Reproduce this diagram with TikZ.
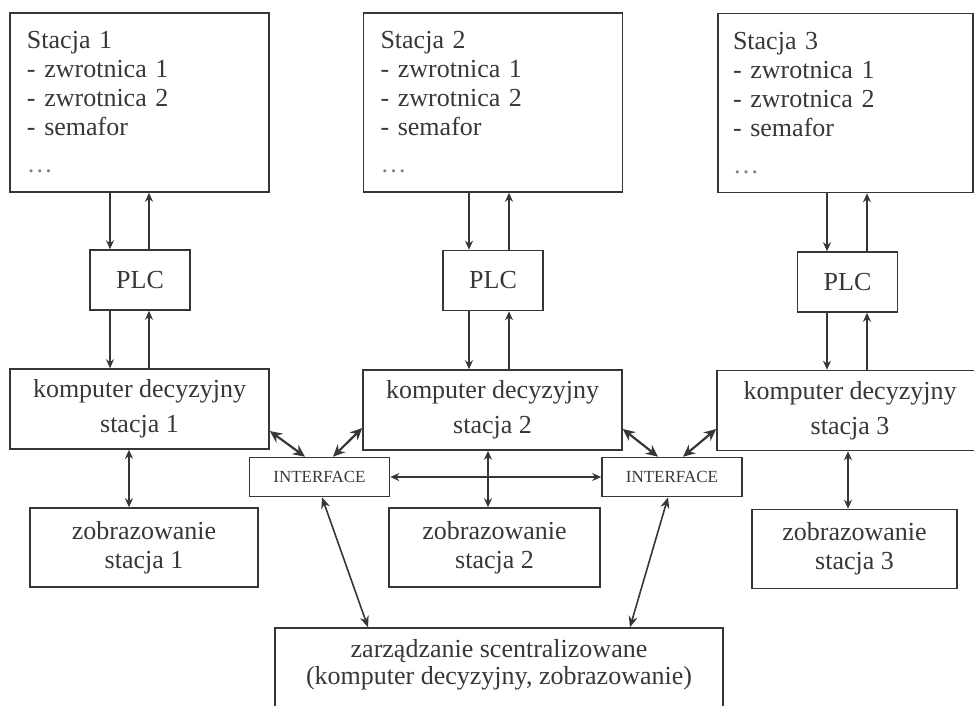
\documentclass[tikz,border=0pt]{standalone}
\usepackage{fontspec}
\setmainfont{Liberation Serif}
\usetikzlibrary{arrows.meta}
\definecolor{schemegray}{RGB}{55,55,55}

\begin{document}
\begin{tikzpicture}[x=1pt,y=-1pt,
    every node/.style={font=\fontsize{26}{29}\selectfont,text=schemegray},
    box/.style={draw=schemegray,line width=1.6pt,align=center,inner sep=0pt},
    stationbox/.style={box,align=left,text width=225pt,minimum width=259pt,
                       minimum height=179pt},
    plcbox/.style={box,minimum width=100pt,minimum height=60pt},
    kdbox/.style={box,minimum width=259pt,minimum height=80pt},
    zobbox/.style={box,minimum height=79pt},
    ifbox/.style={box,font=\fontsize{17}{19}\selectfont,minimum width=140pt,minimum height=39pt},
    sig/.style={draw=schemegray,line width=1.5pt,-{Stealth[length=9pt,width=8pt]}},
    dsig/.style={draw=schemegray,line width=1.5pt,
                 {Stealth[length=9pt,width=8pt]}-{Stealth[length=9pt,width=8pt]}},
    bus/.style={draw=schemegray,line width=2.2pt,
                {Stealth[length=12pt,width=11pt]}-{Stealth[length=12pt,width=11pt]}},
    feed/.style={draw=schemegray,line width=1.6pt,
                 {Stealth[length=11pt,width=9pt]}-{Stealth[length=11pt,width=9pt]}}]
    \useasboundingbox (0,0) rectangle (974,705);
    % stations
    \node[stationbox] (st1) at (139.5,102.5) {Stacja 1\\- zwrotnica 1\\- zwrotnica 2\\- semafor\\[8pt]\textcolor{gray}{\dots}};
    \node[stationbox] (st2) at (493,102.5) {Stacja 2\\- zwrotnica 1\\- zwrotnica 2\\- semafor\\[8pt]\textcolor{gray}{\dots}};
    \node[stationbox,minimum width=255pt] (st3) at (845.5,103) {Stacja 3\\- zwrotnica 1\\- zwrotnica 2\\- semafor\\[8pt]\textcolor{gray}{\dots}};
    % PLC
    \node[plcbox] (plc1) at (140,280) {PLC};
    \node[plcbox] (plc2) at (493,280.5) {PLC};
    \node[plcbox] (plc3) at (847.5,282) {PLC};
    % decision computers
    \node[kdbox] (kd1) at (139.5,409) {komputer decyzyjny\\[6pt]stacja 1};
    \node[kdbox] (kd2) at (492.5,410) {komputer decyzyjny\\[6pt]stacja 2};
    \node[kdbox,minimum width=266pt] (kd3) at (850,410.5) {komputer decyzyjny\\[6pt]stacja 3};
    % displays
    \node[zobbox,minimum width=228pt] (zob1) at (144,547.5) {zobrazowanie\\stacja 1};
    \node[zobbox,minimum width=211pt] (zob2) at (494.5,547.5) {zobrazowanie\\stacja 2};
    \node[zobbox,minimum width=205pt] (zob3) at (854.5,549) {zobrazowanie\\stacja 3};
    % interfaces
    \node[ifbox] (if1) at (319.5,477) {INTERFACE};
    \node[ifbox] (if2) at (672,477) {INTERFACE};
    % central
    \node[box,minimum width=448pt,minimum height=87pt,text depth=19pt,
          font=\fontsize{26}{27}\selectfont] (central) at (499,671.5)
          {zarządzanie scentralizowane\\(komputer decyzyjny, zobrazowanie)};

    \foreach \i/\a/\b/\c in {1/110/149/129,2/469/509/488,3/827/867/848}{
      \draw[sig] (st\i.south -| \a,0) -- (plc\i.north -| \a,0);
      \draw[sig] (plc\i.north -| \b,0) -- (st\i.south -| \b,0);
      \draw[sig] (plc\i.south -| \a,0) -- (kd\i.north -| \a,0);
      \draw[sig] (kd\i.north -| \b,0) -- (plc\i.south -| \b,0);
      \draw[dsig] (kd\i.south -| \c,0) -- (zob\i.north -| \c,0);
    }
    \draw[dsig] (if1.east) -- (if2.west);
    \draw[bus] (kd1.east |- 0,431) -- (if1.north -| 305,0);
    \draw[bus] (kd2.west |- 0,428) -- (if1.north -| 333,0);
    \draw[bus] (kd2.east |- 0,429) -- (if2.north -| 658,0);
    \draw[bus] (kd3.west |- 0,429) -- (if2.north -| 683,0);
    \draw[feed] (if1.south -| 322,0) -- (central.north -| 368,0);
    \draw[feed] (if2.south -| 668,0) -- (central.north -| 630,0);
  \end{tikzpicture}
\end{document}
